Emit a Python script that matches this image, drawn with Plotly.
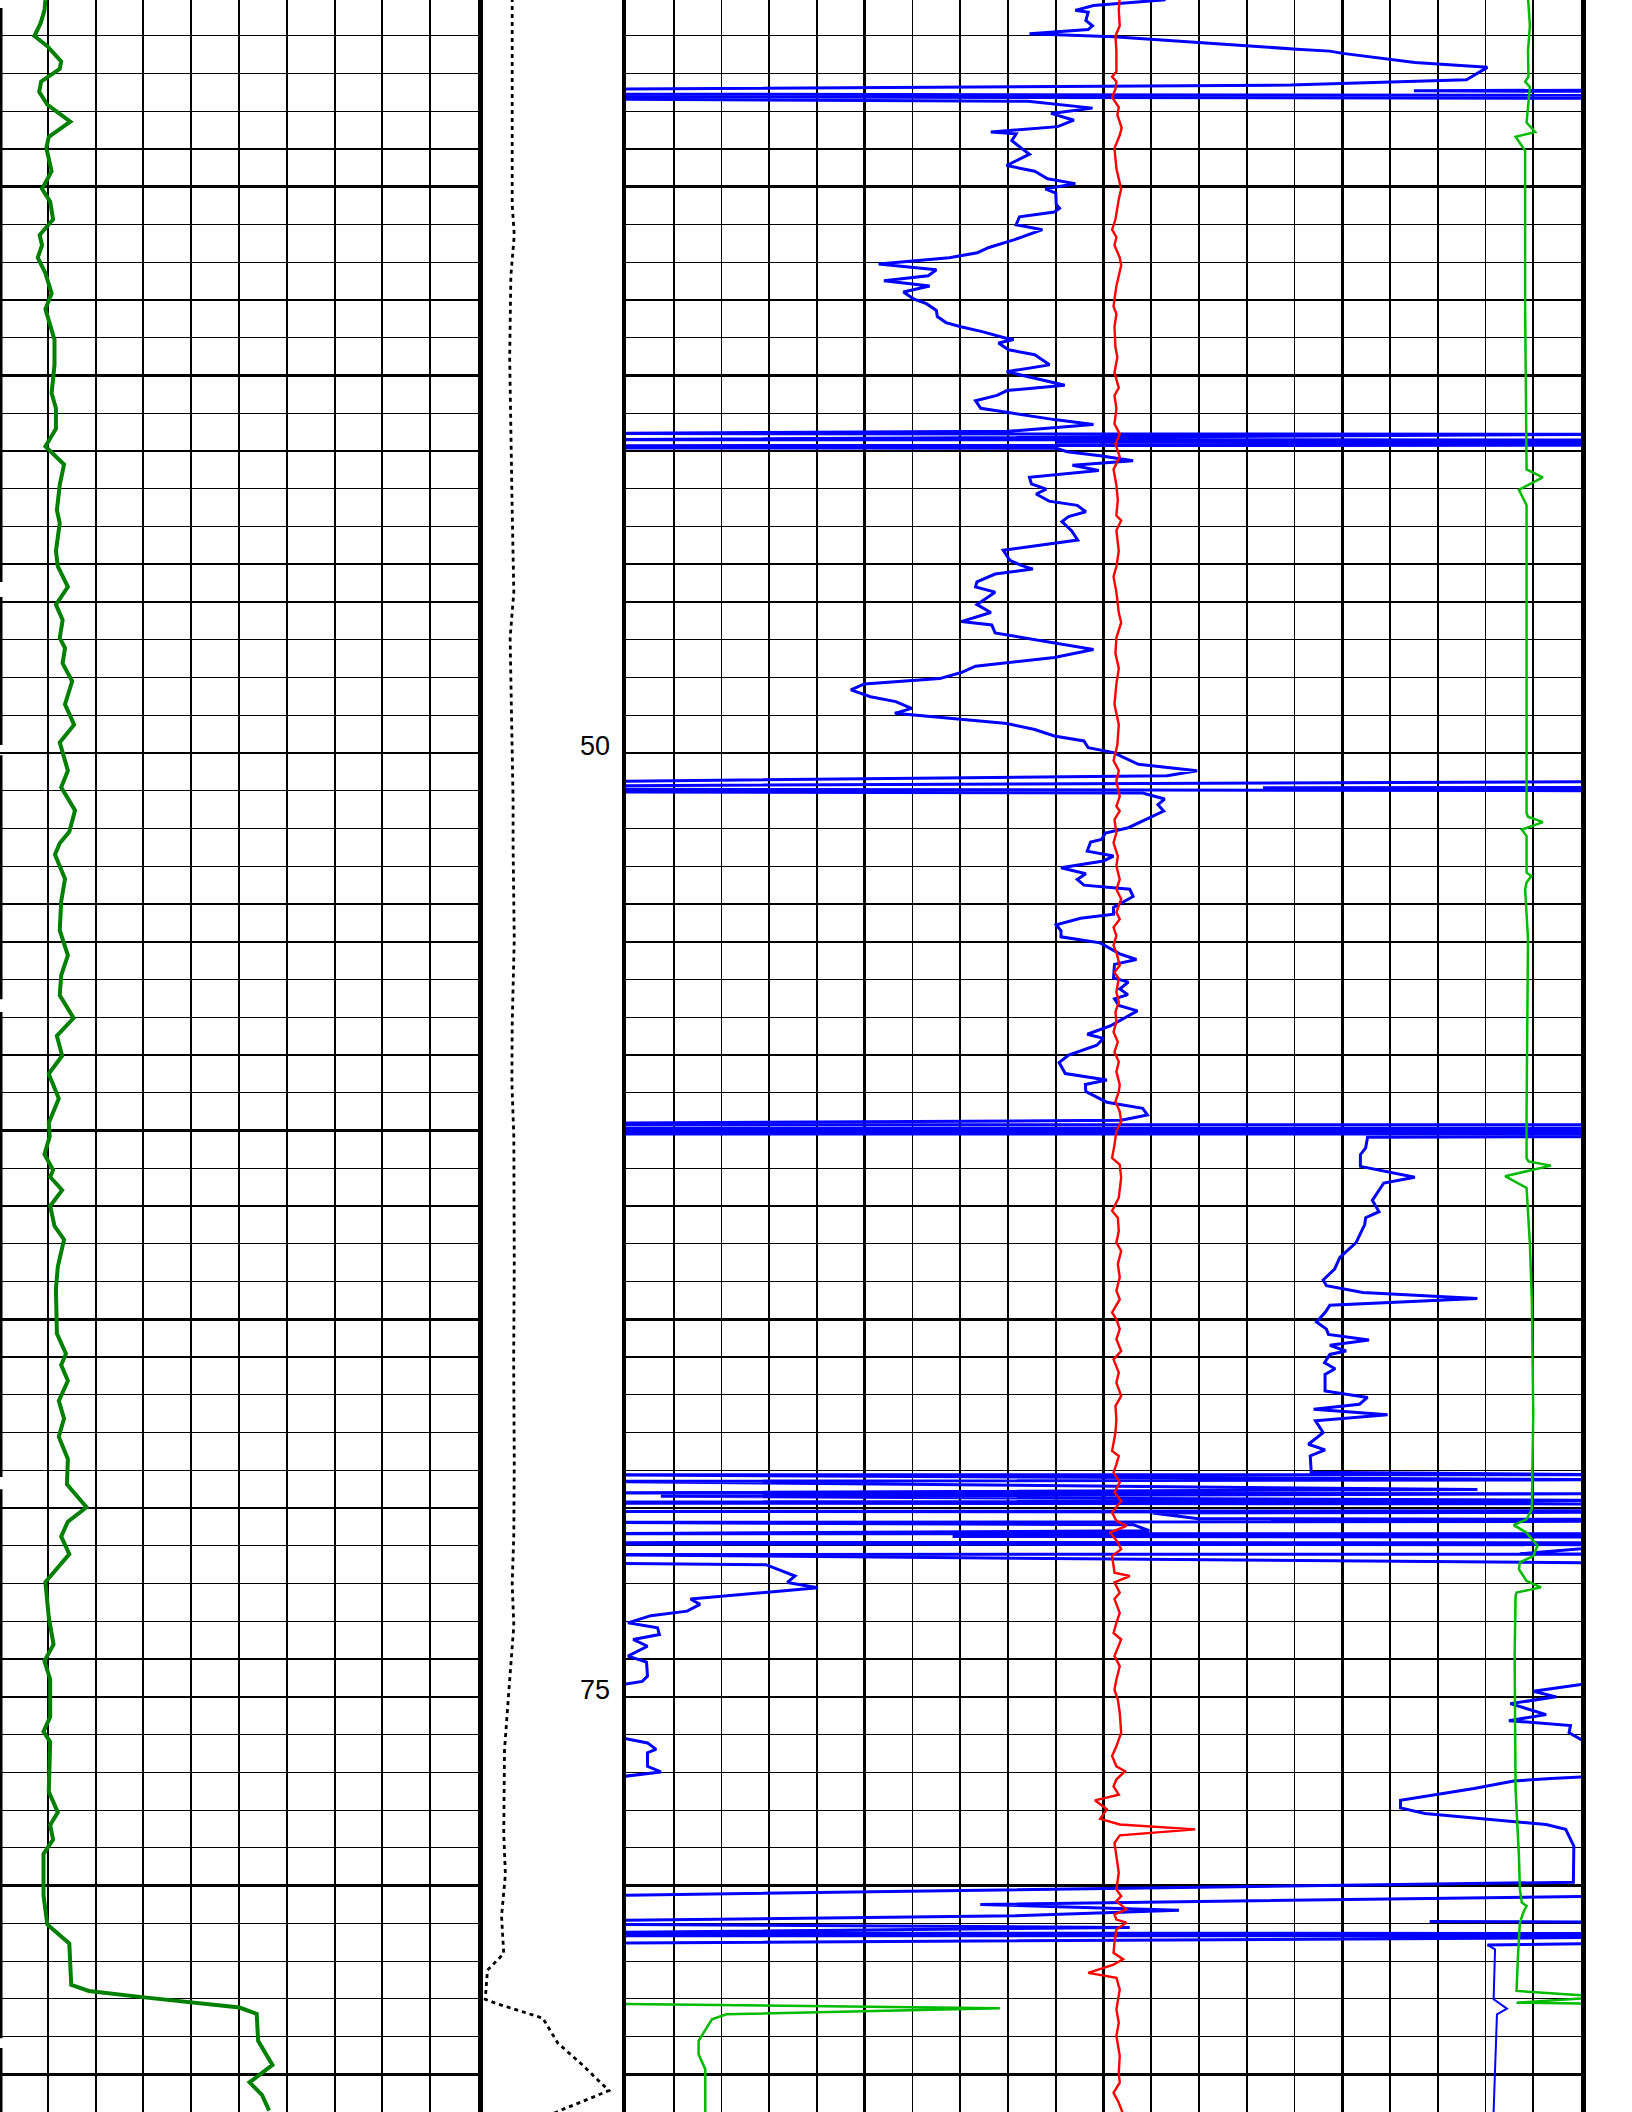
import plotly.graph_objects as go

# ---------------- data (track units: left track 0-10 div, right track 0-20 div) -------------
TOP_DEPTH, BASE_DEPTH = 30.056, 85.996
OL, OR = -1.0, 21.0          # off-scale (wrapped) readings, left / right of the track
GAP = (None, None)

# left track : gamma-ray style curve (value, depth)
gr = [(0.95,30.06),(0.93,30.33),(0.85,30.67),(0.72,31.01),(0.99,31.28),(1.28,31.68),(1.25,31.88),
      (0.86,32.22),(0.82,32.49),(0.99,32.83),(1.47,33.28),(1.02,33.68),(0.97,33.98),(1.08,34.59),
      (0.88,35.06),(1.05,35.40),(1.11,35.87),(0.83,36.28),(0.88,36.55),(0.79,36.88),(0.95,37.29),
      (1.08,37.83),(0.95,38.24),(1.14,39.05),(1.14,39.72),(1.08,40.47),(1.17,40.87),(1.17,41.41),
      (0.95,41.88),(1.34,42.36),(1.25,42.90),(1.19,43.57),(1.25,43.91),(1.17,44.65),(1.21,45.06),
      (1.42,45.60),(1.17,46.07),(1.31,46.48),(1.25,46.95),(1.36,47.22),(1.31,47.63),(1.51,48.10),
      (1.36,48.71),(1.55,49.25),(1.25,49.72),(1.42,50.47),(1.28,50.91),(1.57,51.52),(1.45,52.09),
      (1.25,52.39),(1.15,52.69),(1.36,53.34),(1.28,53.93),(1.25,54.70),(1.42,55.36),(1.28,55.89),
      (1.25,56.42),(1.54,57.02),(1.19,57.49),(1.30,58.02),(1.02,58.50),(1.23,59.15),(1.02,59.80),
      (1.04,60.16),(0.93,60.63),(1.11,61.05),(1.05,61.23),(1.30,61.58),(1.05,62.00),(1.14,62.53),
      (1.34,62.89),(1.21,63.60),(1.17,64.19),(1.19,65.38),(1.38,65.91),(1.28,66.21),(1.42,66.63),
      (1.23,67.16),(1.34,67.63),(1.23,68.11),(1.42,68.70),(1.40,69.37),(1.81,69.98),(1.42,70.36),
      (1.28,70.75),(1.45,71.22),(0.95,71.96),(1.02,72.89),(1.12,73.61),(0.93,74.05),(1.05,74.54),
      (1.05,75.53),(0.91,75.92),(1.05,76.19),(1.02,77.51),(1.21,78.06),(1.05,78.39),(1.11,78.78),
      (0.91,79.16),(0.91,80.26),(0.99,81.03),(1.45,81.53),(1.49,82.63),(1.86,82.79),(3.02,82.96),
      (5.01,83.23),(5.37,83.40),(5.40,84.11),(5.70,84.75),(5.22,85.21),(5.48,85.54),(5.63,85.96)]

# left track : curve pinned at the left edge of the scale (broken segments)
edge = [(0,30.27),(0,45.47),GAP,(0,45.87),(0,49.79),GAP,(0,50.06),(0,56.52),GAP,
        (0,56.86),(0,69.18),GAP,(0,69.50),(0,84.04),GAP,(0,84.30),(0,86.10)]

# depth track : caliper-like dotted curve (fraction of track width, depth)
caliper = [(0.231,30.00),(0.231,35.47),(0.245,36.28),(0.222,37.36),(0.214,39.52),(0.231,43.57),
           (0.242,45.74),(0.217,46.95),(0.237,51.25),(0.237,52.45),(0.245,54.94),(0.231,57.19),
           (0.229,58.74),(0.242,60.16),(0.245,63.48),(0.241,66.09),(0.245,68.71),(0.242,70.69),
           (0.231,72.01),(0.242,73.11),(0.208,74.87),(0.179,76.41),(0.174,78.61),(0.185,79.71),
           (0.159,80.81),(0.174,81.80),(0.064,82.24),(0.049,83.01),(0.122,83.12),(0.438,83.51),
           (0.539,84.17),(0.697,84.72),(0.885,85.43),(0.553,85.96),(0.50,86.05)]

# right track : blue resistivity (wraps off scale)
blue = [(11.30,30.05),(9.79,30.20),(9.41,30.33),(9.68,30.38),(9.63,30.60),(9.77,30.74),(9.68,30.84),
        (8.45,30.95),(10.21,31.03),(11.99,31.18),(14.05,31.36),(14.74,31.41),(15.01,31.47),
        (16.52,31.71),(18.04,31.84),(17.60,32.17),(13.91,32.31),(OL,32.42),GAP,
        (OR,32.44),(16.5,32.46),(OR,32.48),GAP,(OL,32.55),(OR,32.58),GAP,(OL,32.62),(OR,32.66),GAP,
        (OL,32.68),(8.42,32.74),(9.77,32.92),(8.90,33.06),(9.38,33.24),(9.04,33.41),(7.64,33.55),
        (8.17,33.60),(8.08,33.78),(8.28,33.98),(8.45,34.14),(7.97,34.44),(8.56,34.59),(8.83,34.79),
        (9.41,34.92),(8.78,35.06),(9.00,35.17),(9.01,35.47),(9.08,35.57),(8.97,35.67),(8.24,35.80),
        (8.17,36.01),(8.72,36.14),(8.12,36.41),(7.60,36.61),(7.36,36.75),(6.77,36.88),(5.29,37.05),
        (6.50,37.20),(6.33,37.36),(5.40,37.49),(6.36,37.63),(5.81,37.79),(6.02,37.97),(6.29,38.10),
        (6.50,38.28),(6.52,38.44),(6.70,38.60),(7.01,38.71),(7.46,38.84),(7.94,39.01),(8.12,39.05),
        (7.80,39.14),(8.01,39.32),(8.56,39.45),(8.87,39.72),(7.97,39.90),(9.19,40.26),(7.98,40.40),
        (7.77,40.53),(7.32,40.67),(7.43,40.87),(8.97,41.17),(9.79,41.30),(8.01,41.48),
        (OL,41.54),(OR,41.56),(OL,41.70),(OR,41.71),(9.0,41.77),(OR,41.78),(OR,41.85),(OL,41.86),
        (OL,41.92),(9.01,41.93),(9.24,42.02),(9.93,42.13),(10.62,42.26),(9.35,42.38),(9.90,42.52),
        (8.45,42.70),(8.49,42.87),(8.80,43.01),(8.59,43.14),(8.86,43.33),(9.45,43.44),(9.63,43.61),
        (9.27,43.74),(9.13,43.87),(9.33,44.11),(9.46,44.36),(7.90,44.63),(8.04,44.90),(8.28,45.03),
        (8.52,45.13),(7.73,45.26),(7.35,45.47),(7.32,45.60),(7.73,45.74),(7.35,46.07),(7.64,46.28),
        (7.02,46.52),(7.66,46.61),(7.73,46.82),(9.79,47.26),(8.97,47.47),(7.32,47.70),(7.02,47.87),
        (6.57,48.03),(4.99,48.17),(4.71,48.33),(5.12,48.51),(5.65,48.64),(5.98,48.82),(5.63,48.95),
        (7.98,49.22),(8.56,49.38),(8.97,49.55),(9.59,49.68),(9.68,49.86),(10.21,49.99),(10.73,50.30),
        (11.96,50.47),(11.33,50.60),(OL,50.76),GAP,
        (OR,50.76),(OL,50.87),(OL,50.96),(OR,51.00),(OR,50.93),(13.34,50.92),(OR,50.91),GAP,
        (OL,51.03),(10.82,51.06),(11.28,51.22),(11.14,51.37),(11.26,51.54),(10.52,51.98),(10.04,52.12),
        (9.96,52.29),(9.73,52.36),(9.66,52.60),(10.21,52.73),(10.00,52.86),(9.11,53.04),(9.63,53.20),
        (9.45,53.35),(9.59,53.50),(10.55,53.61),(10.62,53.80),(10.21,54.09),(10.21,54.27),(9.52,54.38),
        (9.01,54.55),(9.11,54.71),(9.11,54.87),(9.93,55.03),(10.34,55.32),(10.69,55.47),(10.23,55.60),
        (10.21,55.96),(10.52,56.07),(10.34,56.25),(10.51,56.40),(10.23,56.51),(10.32,56.69),
        (10.71,56.83),(10.14,57.23),(9.66,57.45),(10.00,57.56),(9.86,57.74),(9.27,58.00),(9.07,58.20),
        (9.20,58.49),(10.07,58.66),(9.62,58.78),(9.63,58.97),(10.07,59.25),(10.82,59.41),(10.92,59.59),
        (10.37,59.73),(OL,59.81),GAP,
        (OL,59.85),(OR,59.85),(OR,59.94),(OL,59.94),(OL,60.01),(OR,60.01),(OR,60.09),(OL,60.09),GAP,
        (OR,60.16),(15.53,60.18),(15.49,60.46),(15.38,60.64),(15.38,60.95),(16.52,61.24),(15.87,61.39),
        (15.63,61.85),(15.77,62.15),(15.49,62.31),(15.47,62.49),(15.29,62.97),(14.95,63.36),
        (14.84,63.67),(14.60,63.96),(14.67,64.11),(15.43,64.29),(17.83,64.45),(14.74,64.63),
        (14.64,64.82),(14.46,65.07),(14.67,65.26),(14.71,65.40),(15.56,65.55),(14.74,65.69),
        (15.08,65.84),(14.74,65.93),(14.63,66.15),(14.85,66.31),(14.64,66.46),(14.64,66.90),
        (15.53,67.07),(15.36,67.25),(14.40,67.38),(15.95,67.53),(14.44,67.69),(14.60,68.00),
        (14.29,68.31),(14.64,68.46),(14.33,68.62),(14.35,69.05),
        (OR,69.12),(OL,69.12),(OR,69.25),(OL,69.29),(17.83,69.51),(OL,69.60),(OR,69.62),(0.73,69.69),
        (OR,69.80),(OL,69.84),(2.93,69.85),(OL,69.87),(OR,69.89),(OR,70.07),(OL,70.09),(OR,70.11),
        (11.03,70.13),(11.99,70.28),(OR,70.30),(OR,70.35),(OL,70.38),(10.62,70.44),(10.96,70.60),
        (OL,70.68),(OR,70.68),(6.84,70.75),(OR,70.77),(OR,70.92),(1.14,70.91),(OL,70.93),(OL,70.95),
        (OR,70.97),(18.72,71.21),(OR,71.22),(OL,71.23),(OR,71.46),GAP,
        (OL,71.46),(2.93,71.50),(3.54,71.80),(3.38,71.97),(4.02,72.11),(1.35,72.41),(1.55,72.55),
        (1.28,72.73),(0.52,72.85),(0.04,73.04),(0.66,73.17),(0.70,73.35),(0.15,73.48),(0.45,73.66),
        (0.04,73.92),(0.43,74.08),(0.45,74.45),(0.34,74.59),(0.00,74.66),(OL,74.68),GAP,
        (OR,74.66),(20.0,74.67),(19.00,74.85),(19.48,75.00),(18.52,75.18),(19.27,75.47),(18.49,75.63),
        (19.78,75.76),(19.75,75.95),(20.0,76.13),(OR,76.15),GAP,
        (OL,76.10),(0.00,76.11),(0.45,76.22),(0.63,76.39),(0.45,76.48),(0.45,76.84),(0.73,76.99),
        (0.00,77.10),(OL,77.12),GAP,
        (OR,77.11),(20.0,77.12),(19.37,77.16),(18.59,77.23),(17.76,77.43),(16.22,77.74),(16.22,77.94),
        (16.73,78.09),(19.27,78.38),(19.68,78.51),(19.85,78.95),(19.84,79.91),(OL,80.27),GAP,
        (OR,80.27),(7.42,80.50),(11.58,80.65),(8.15,80.80),(OL,80.93),(OL,81.02),(10.55,81.11),
        (OL,81.25),(OR,81.27),(OR,81.33),(OL,81.33),(OL,81.53),(OR,81.37),(OR,81.52),(18.04,81.57),GAP,
        (16.83,80.95),(OR,80.97)]

# right track : thin blue continuation near the base
blue_thin = [(18.04,81.57),(18.20,81.69),(18.17,83.01),(18.45,83.26),(18.24,83.41),(18.17,85.98),
             (18.17,86.10)]

# right track : red curve
red = [(10.34,30.00),(10.32,30.33),(10.34,30.74),(10.25,31.01),(10.27,31.41),(10.27,31.95),(10.18,32.09),
       (10.27,32.22),(10.25,32.42),(10.18,32.63),(10.32,32.90),(10.29,33.10),(10.38,33.44),(10.34,33.64),
       (10.23,33.98),(10.27,34.52),(10.37,35.06),(10.32,35.33),(10.25,35.87),(10.18,36.14),(10.27,36.34),
       (10.23,36.55),(10.34,36.88),(10.37,37.09),(10.27,37.63),(10.21,38.17),(10.27,38.37),(10.23,38.71),
       (10.25,39.25),(10.29,39.52),(10.23,39.92),(10.32,40.33),(10.23,40.53),(10.27,40.87),(10.23,41.28),
       (10.34,41.55),(10.25,41.82),(10.34,42.15),(10.21,42.49),(10.27,42.90),(10.30,43.30),(10.27,43.71),
       (10.37,43.84),(10.27,44.11),(10.32,44.65),(10.27,45.06),(10.21,45.33),(10.27,45.74),(10.32,46.28),
       (10.37,46.55),(10.27,46.95),(10.25,47.36),(10.32,47.76),(10.27,48.17),(10.23,48.71),(10.32,49.25),
       (10.29,49.79),(10.21,50.20),(10.32,50.47),(10.27,50.74),(10.34,51.15),(10.27,51.41),(10.34,51.54),
       (10.23,51.76),(10.27,52.12),(10.21,52.38),(10.30,52.73),(10.27,52.99),(10.34,53.35),(10.27,53.61),
       (10.37,53.87),(10.27,54.22),(10.34,54.40),(10.21,54.62),(10.27,54.84),(10.21,55.10),(10.27,55.28),
       (10.34,55.63),(10.23,55.81),(10.32,55.98),(10.27,56.33),(10.32,56.60),(10.25,56.86),(10.27,57.12),
       (10.21,57.39),(10.30,57.65),(10.23,57.92),(10.32,58.18),(10.27,58.44),(10.34,58.79),(10.32,58.97),
       (10.25,59.23),(10.34,59.50),(10.37,59.76),(10.27,60.02),(10.23,60.38),(10.18,60.73),(10.34,60.90),
       (10.37,61.25),(10.32,61.78),(10.18,62.13),(10.30,62.31),(10.32,62.66),(10.27,62.97),(10.37,63.19),
       (10.30,63.54),(10.34,63.89),(10.27,64.24),(10.34,64.47),(10.18,64.82),(10.27,65.00),(10.34,65.26),
       (10.27,65.53),(10.37,65.84),(10.21,66.06),(10.32,66.41),(10.27,66.68),(10.37,67.03),(10.25,67.30),
       (10.27,67.65),(10.25,68.00),(10.18,68.49),(10.32,68.62),(10.27,68.84),(10.21,69.06),(10.34,69.32),
       (10.23,69.59),(10.37,69.81),(10.18,70.12),(10.27,70.34),(10.48,70.47),(10.14,70.65),(10.30,70.91),
       (10.37,71.09),(10.18,71.27),(10.21,71.53),(10.23,71.71),(10.55,71.80),(10.23,71.97),(10.34,72.24),
       (10.23,72.41),(10.34,72.78),(10.27,73.04),(10.21,73.31),(10.37,73.48),(10.23,73.92),(10.34,74.19),
       (10.27,74.54),(10.23,74.81),(10.30,75.07),(10.34,75.42),(10.37,75.95),(10.27,76.31),(10.18,76.57),
       (10.27,76.84),(10.45,76.97),(10.27,77.19),(10.21,77.37),(10.32,77.59),(9.82,77.74),(10.07,77.98),
       (9.93,78.23),(10.34,78.38),(11.92,78.51),(10.34,78.67),(10.23,78.87),(10.27,79.22),(10.32,79.66),
       (10.27,80.10),(10.37,80.28),(10.27,80.41),(10.48,80.63),(10.23,80.76),(10.27,80.90),(10.48,80.98),
       (10.27,81.16),(10.23,81.51),(10.21,81.78),(10.41,81.95),(10.21,82.09),(9.68,82.31),(10.27,82.44),
       (10.34,82.75),(10.27,83.28),(10.32,83.63),(10.27,83.98),(10.34,84.51),(10.32,84.96),(10.34,85.22),
       (10.21,85.49),(10.32,85.75),(10.41,86.05)]

# right track : light-green curve (wraps to the left near the base)
lgreen = [(18.89,30.00),(18.93,30.74),(18.89,31.41),(18.90,32.09),(18.83,32.22),(18.93,32.36),
          (18.86,33.30),(19.04,33.55),(18.63,33.68),(18.83,34.05),(18.83,35.47),(18.83,38.17),
          (18.86,42.49),(19.20,42.70),(18.70,43.03),(18.86,43.44),(18.86,46.28),(18.86,51.25),
          (18.86,51.59),(18.89,51.69),(19.20,51.83),(18.76,52.03),(18.86,52.20),(18.86,53.17),
          (18.96,53.26),(18.86,53.43),(18.83,53.61),(18.89,54.93),(18.86,59.50),(18.86,60.73),
          (18.90,60.82),(19.37,60.93),(18.41,61.21),(18.86,61.52),(18.93,63.01),(18.97,64.49),
          (19.00,67.47),(18.97,70.03),(18.86,70.30),(18.59,70.45),(18.86,70.65),(19.09,71.00),
          (19.00,71.27),(18.72,71.44),(18.70,71.62),(18.86,71.93),(19.16,72.10),(18.65,72.24),
          (18.63,72.33),(18.61,73.92),(18.63,77.45),(18.70,79.22),(18.72,80.10),(18.76,80.45),
          (18.86,80.54),(18.79,80.72),(18.72,80.98),(18.68,81.87),(18.65,82.79),(20.5,82.95),
          (18.65,83.10),(OR,83.14),GAP,
          (OL,83.12),(7.83,83.25),(2.10,83.41),(1.80,83.54),(1.52,84.11),(1.52,84.47),(1.66,84.86),
          (1.66,86.05)]

depth_label_step = 25


def split(pairs):
    return [p[0] for p in pairs], [p[1] for p in pairs]


W, H = 1632, 2112
LEFT_DOM = [0.0, 478 / W]
MID_DOM = [478 / W, 626 / W]
RIGHT_DOM = [626 / W, 1581 / W]

fig = go.Figure()

x, y = split(edge)
fig.add_trace(go.Scatter(x=x, y=y, xaxis="x", yaxis="y", mode="lines", connectgaps=False,
                         line=dict(color="black", width=5.0, simplify=False)))

x, y = split(gr)
fig.add_trace(go.Scatter(x=x, y=y, xaxis="x", yaxis="y", mode="lines",
                         line=dict(color="#008000", width=4.0, simplify=False)))

x, y = split(caliper)
fig.add_trace(go.Scatter(x=x, y=y, xaxis="x2", yaxis="y2", mode="lines",
                         line=dict(color="black", width=2.8, dash="4px,4px", simplify=False)))

x, y = split(blue)
fig.add_trace(go.Scatter(x=x, y=y, xaxis="x3", yaxis="y3", mode="lines", connectgaps=False,
                         line=dict(color="#0000ff", width=3.0, simplify=False)))
x, y = split(blue_thin)
fig.add_trace(go.Scatter(x=x, y=y, xaxis="x3", yaxis="y3", mode="lines",
                         line=dict(color="#0000ff", width=2.0, simplify=False)))

x, y = split(red)
fig.add_trace(go.Scatter(x=x, y=y, xaxis="x3", yaxis="y3", mode="lines",
                         line=dict(color="#ff0000", width=2.4, simplify=False)))

x, y = split(lgreen)
fig.add_trace(go.Scatter(x=x, y=y, xaxis="x3", yaxis="y3", mode="lines", connectgaps=False,
                         line=dict(color="#00bb00", width=2.5, simplify=False)))

yrange = [BASE_DEPTH, TOP_DEPTH]
ygrid = dict(range=yrange, domain=[0, 1], showticklabels=False, ticks="", zeroline=False,
             tickmode="linear", tick0=0, dtick=5, showgrid=True, gridcolor="black", gridwidth=2.4,
             minor=dict(tickmode="linear", tick0=0, dtick=1, showgrid=True, gridcolor="black",
                        gridwidth=1.2, ticks=""),
             showline=True, mirror=True, linecolor="black", linewidth=4.5)

fig.update_layout(
    width=W, height=H, margin=dict(l=0, r=0, t=0, b=0, pad=0),
    paper_bgcolor="white", plot_bgcolor="white", showlegend=False,
    xaxis=dict(domain=LEFT_DOM, range=[0, 10], anchor="y", showticklabels=False, ticks="",
               zeroline=False, tickmode="linear", tick0=0, dtick=5, showgrid=True,
               gridcolor="black", gridwidth=2.8,
               minor=dict(tickmode="linear", tick0=0, dtick=1, showgrid=True, gridcolor="black",
                          gridwidth=1.9, ticks="")),
    yaxis=dict(anchor="x", **ygrid),
    xaxis2=dict(domain=MID_DOM, range=[0, 1], anchor="y2", showticklabels=False, ticks="",
                zeroline=False, showgrid=False),
    yaxis2=dict(anchor="x2", range=yrange, domain=[0, 1], showticklabels=False, ticks="",
                zeroline=False, showgrid=False, showline=False),
    xaxis3=dict(domain=RIGHT_DOM, range=[0, 20], anchor="y3", showticklabels=False, ticks="",
                zeroline=False, tickmode="linear", tick0=0, dtick=5, showgrid=True,
                gridcolor="black", gridwidth=3.4,
                minor=dict(tickmode="linear", tick0=0, dtick=1, showgrid=True, gridcolor="black",
                           gridwidth=1.9, ticks="")),
    yaxis3=dict(anchor="x3", **ygrid),
)

# depth labels every 25 units inside the displayed interval
first = int(TOP_DEPTH // depth_label_step + 1) * depth_label_step
d = first
while d < BASE_DEPTH:
    fig.add_annotation(x=0.905, y=d, xref="x2", yref="y2", text=str(d), showarrow=False,
                       xanchor="right", yanchor="middle", yshift=7,
                       font=dict(family="Liberation Sans, Arial, sans-serif", size=27, color="black"))
    d += depth_label_step

fig.write_html("out.html", config={"displayModeBar": False, "staticPlot": True},
               post_script="document.body.style.margin='0px';document.body.style.padding='0px';")
